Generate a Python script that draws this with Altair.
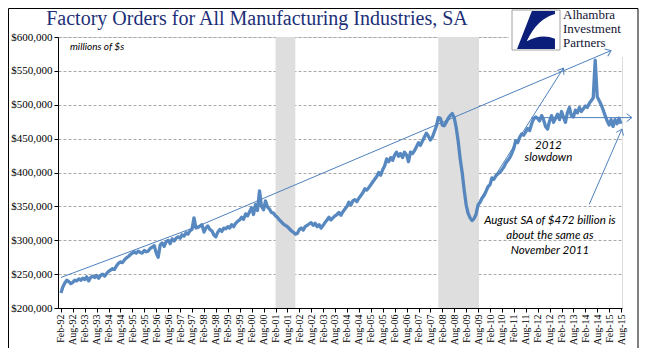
import altair as alt
import pandas as pd
import math

# ---- monthly factory orders, thousands of millions ----
y1992 = [222, 231, 237, 241, 239, 236, 238, 241, 240, 243, 241]
y1993 = [244, 242, 246, 240, 245, 247, 245, 248, 244, 248, 250, 247]
y1994 = [251, 254, 256, 258, 257, 262, 266, 268, 267, 271, 274, 276]
y1995 = [279, 281, 283, 281, 284, 282, 281, 285, 283, 284, 288, 290]
y1996 = [292, 281, 275, 293, 296, 291, 298, 300, 295, 302, 299, 303]
y1997 = [305, 303, 308, 306, 311, 309, 314, 316, 333, 318, 319, 321]
y1998 = [323, 312, 318, 321, 316, 314, 308, 305, 312, 316, 313, 318]
y1999 = [317, 320, 318, 323, 320, 325, 328, 330, 334, 331, 339, 336]
y2000 = [342, 348, 338, 353, 344, 373, 350, 345, 358, 349, 346, 341]
y2001 = [340, 336, 334, 330, 327, 324, 322, 320, 317, 314, 312, 309]
y2002 = [310, 316, 318, 315, 320, 322, 324, 326, 322, 325, 320, 323]
y2003 = [318, 322, 326, 330, 334, 330, 333, 336, 338, 341, 337, 342]
y2004 = [346, 350, 356, 352, 358, 360, 357, 362, 366, 370, 376, 374]
y2005 = [378, 382, 386, 390, 394, 400, 396, 404, 410, 420, 416, 422]
y2006 = [418, 426, 430, 424, 428, 422, 430, 426, 416, 430, 428, 432]
y2007 = [438, 444, 440, 446, 452, 458, 454, 448, 452, 460, 468, 481]
y2008 = [480, 470, 469, 474, 480, 484, 487, 481, 466, 446, 420, 400]
y2009 = [374, 352, 340, 333, 329, 332, 338, 352, 356, 362, 366, 372]
y2010 = [379, 382, 392, 390, 395, 398, 400, 404, 408, 414, 418, 422]
y2011 = [428, 436, 447, 444, 452, 457, 455, 460, 465, 462, 472, 479]
y2012 = [482, 480, 476, 484, 478, 468, 464, 476, 484, 474, 480, 486]
y2013 = [478, 490, 482, 474, 488, 496, 484, 482, 492, 488, 496, 490]
y2014 = [494, 498, 496, 502, 506, 510, 566, 512, 506, 500, 492, 484]
y2015 = [476, 470, 478, 468, 478, 472, 480, 472]

years = [y1992, y1993, y1994, y1995, y1996, y1997, y1998, y1999, y2000, y2001,
         y2002, y2003, y2004, y2005, y2006, y2007, y2008, y2009, y2010, y2011,
         y2012, y2013, y2014, y2015]
values = [v * 1000 for yr in years for v in yr]


def ms(d):
    return int(pd.Timestamp(d).value // 10**6)


dates = pd.date_range("1992-02-01", periods=len(values), freq="MS")
df = pd.DataFrame({"t": [ms(d) for d in dates], "orders": values})

# recession shading
rec_start = ["2001-02-01", "2007-12-01"]
rec_end = ["2001-12-01", "2009-08-15"]

# annotation arrows (date, value) paths
arrow_long_d = ["1992-02-01", "1997-12-01", "2015-03-01"]
arrow_long_v = [245000, 322000, 580000]
arrow_recov_d = ["2009-09-01", "2013-03-01"]
arrow_recov_v = [360000, 554000]
arrow_flat_d = ["2011-11-01", "2016-01-15"]
arrow_flat_v = [481000, 481000]
arrow_aug_d = ["2014-04-01", "2015-08-15"]
arrow_aug_v = [353000, 464000]

slow_lines = ["2012", "slowdown"]
slow_d = ["2012-07-15", "2012-07-15"]
slow_v = [439000, 421000]
aug_lines = ["August SA of $472 billion is", "about the same as", "November 2011"]
aug_d = ["2012-08-07", "2012-08-07", "2012-08-07"]
aug_v = [328000, 306000, 284000]

W, H = 564, 271
X0, X1 = "1991-12-18", "2015-08-16"
YMIN, YMAX = 200000, 600000
BLUE = "#4a7ebb"


def px(d):
    return (ms(d) - ms(X0)) / (ms(X1) - ms(X0)) * W


def py(v):
    return H - (v - YMIN) / (YMAX - YMIN) * H


def heading(d_list, v_list):
    dx = px(d_list[-1]) - px(d_list[-2])
    dy = py(v_list[-1]) - py(v_list[-2])
    return math.degrees(math.atan2(dy, dx)) % 360


arrow_rows = []
head_rows = []
for k, (dl, vl) in enumerate([(arrow_long_d, arrow_long_v), (arrow_recov_d, arrow_recov_v),
                              (arrow_flat_d, arrow_flat_v), (arrow_aug_d, arrow_aug_v)]):
    for i, (d, v) in enumerate(zip(dl, vl)):
        arrow_rows.append({"seg": k, "i": i, "t": ms(d), "orders": v})
    head_rows.append({"t": ms(dl[-1]), "orders": vl[-1], "angle": heading(dl, vl)})
arrows = pd.DataFrame(arrow_rows)
heads = pd.DataFrame(head_rows)

xscale = alt.Scale(type="utc", domain=[ms(X0), ms(X1)], nice=False)
yscale = alt.Scale(domain=[YMIN, YMAX], nice=False)

tick_vals = [ms(f"{yy}-{mm:02d}-01") for yy in range(1992, 2016) for mm in (2, 8)]

x_axis = alt.Axis(values=tick_vals, labelExpr="utcFormat(datum.value, '%b-%y')",
                  labelAngle=270, title=None, labelFont="Liberation Serif",
                  labelFontSize=10, labelColor="black", tickSize=4, tickColor="black",
                  domainColor="black", grid=False, labelPadding=2, labelOverlap=False,
                  labelFlush=False, labelAlign="right", labelBaseline="middle")
y_axis = alt.Axis(values=list(range(200000, 600001, 50000)), format="$,.0f", title=None,
                  labelFont="Liberation Serif", labelFontSize=11, labelColor="black",
                  tickSize=4, tickColor="black", domainColor="black",
                  grid=True, gridDash=[3, 2], gridColor="#a8a8a8", labelPadding=2)

X = alt.X("t:T", scale=xscale, axis=x_axis)
Y = alt.Y("orders:Q", scale=yscale, axis=y_axis)

one = pd.DataFrame({"a": [0]})

bands = alt.Chart(pd.DataFrame({"t": [ms(d) for d in rec_start],
                                "e": [ms(d) for d in rec_end]})).mark_rect(
    color="#dedede").encode(
    x=X, x2="e:T", y=alt.value(0), y2=alt.value(H))

line = alt.Chart(df).mark_line(color=BLUE, strokeWidth=3.3, opacity=0.92,
                               strokeJoin="round").encode(x=X, y=Y)

logo_bg = alt.Chart(one).mark_rect(fill="white").encode(
    x=alt.value(451), x2=alt.value(576), y=alt.value(-29), y2=alt.value(20))
logo_box = alt.Chart(one).mark_rect(fill="white", stroke="#a0a0a0", strokeWidth=1).encode(
    x=alt.value(454), x2=alt.value(502), y=alt.value(-27), y2=alt.value(13))
swoosh = alt.Chart(one).mark_point(
    shape="M-0.2,-0.92L0.92,-0.92L0.92,-0.78Q0.05,-0.55-0.45,0.55Q0.25,0.15 0.92,0.42L0.92,0.92L-0.92,0.92Z",
    filled=True, color="#0b1f7a", opacity=1, size=1700).encode(
    x=alt.value(478), y=alt.value(-7))
logo_text = alt.Chart(pd.DataFrame({"txt": ["Alhambra", "Investment", "Partners"],
                                    "yy": [-22, -8, 6]})).mark_text(
    font="Liberation Serif", fontSize=13, color="#141433", align="left",
    baseline="middle").encode(x=alt.value(505), y=alt.Y("yy:Q", scale=None), text="txt:N")

arrow_lines = alt.Chart(arrows).mark_line(color="#4f81bd", strokeWidth=1).encode(
    x=X, y=Y, detail="seg:N", order="i:Q")
arrow_heads = alt.Chart(heads).mark_point(
    shape="M-1,-0.75L0,0L-1,0.75", filled=False, color="#4f81bd", strokeWidth=1,
    size=110, opacity=1).encode(
    x=X, y=Y, angle=alt.Angle("angle:Q", scale=None))

slow = alt.Chart(pd.DataFrame({"txt": slow_lines, "t": [ms(d) for d in slow_d],
                               "orders": slow_v})).mark_text(
    font="Lato", fontStyle="italic", fontSize=11.5, color="black").encode(
    x=X, y=Y, text="txt:N")
aug = alt.Chart(pd.DataFrame({"txt": aug_lines, "t": [ms(d) for d in aug_d],
                              "orders": aug_v})).mark_text(
    font="Lato", fontStyle="italic", fontSize=11.5, color="black").encode(
    x=X, y=Y, text="txt:N")

units = alt.Chart(one).mark_text(text="millions of $s", font="Lato", fontStyle="italic",
                                 fontSize=10, color="black", align="left",
                                 baseline="middle").encode(x=alt.value(12), y=alt.value(10))
title = alt.Chart(one).mark_text(text="Factory Orders for All Manufacturing Industries, SA",
                                 font="Liberation Serif", fontSize=20, color="#1c2f78",
                                 align="center", baseline="middle").encode(
    x=alt.value(199), y=alt.value(-18))
frame = alt.Chart(one).mark_rect(fill=None, stroke="black", strokeWidth=1).encode(
    x=alt.value(-49.5), x2=alt.value(580), y=alt.value(-28.5), y2=alt.value(313.5))

chart = alt.layer(
    bands, line, logo_bg, logo_box, swoosh, logo_text,
    arrow_lines, arrow_heads, slow, aug, units, title, frame
).properties(
    width=W, height=H,
    autosize=alt.AutoSizeParams(type="none"),
    padding={"left": 50, "top": 29, "right": 37, "bottom": 40},
).configure_view(stroke="#868686", strokeWidth=1).configure(background="white")

chart.save("out.html", embed_options={"renderer": "svg", "actions": False})
